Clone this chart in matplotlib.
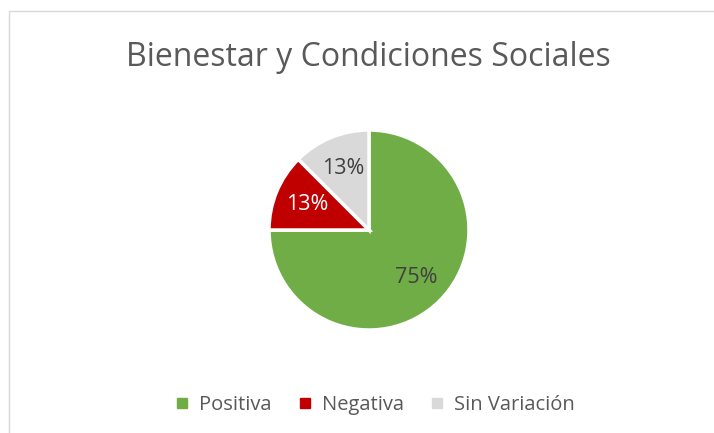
import matplotlib.pyplot as plt
from matplotlib.patches import Rectangle
from matplotlib.lines import Line2D

categories = ["Positiva", "Negativa", "Sin Variación"]
values = [75, 12.5, 12.5]
labels = ["75%", "13%", "13%"]
colors = ["#70AD47", "#C00000", "#D9D9D9"]
label_colors = ["#404040", "#FFFFFF", "#404040"]

plt.rcParams['font.family'] = ['Open Sans', 'DejaVu Sans']

W, H = 714, 433
fig = plt.figure(figsize=(W / 100, H / 100), dpi=100)
fig.patch.set_facecolor("white")

# chart border
fig.add_artist(Rectangle((9 / W, -0.1), 1.1, (H - 11) / H + 0.1, transform=fig.transFigure,
                         fill=False, edgecolor="#D9D9D9", linewidth=1.0))

fig.text(368 / W, 1 - 58 / H, "Bienestar y Condiciones Sociales", ha="center", va="center",
         fontsize=23, color="#595959")

r = 100
cx, cy = 369, 230
ax = fig.add_axes([(cx - r) / W, 1 - (cy + r) / H, 2 * r / W, 2 * r / H])
wedges, texts = ax.pie(values, colors=colors, startangle=90, counterclock=False,
                       labels=labels, labeldistance=0.67,
                       wedgeprops=dict(edgecolor="white", linewidth=2.5),
                       textprops=dict(fontsize=15.5))
for t, c in zip(texts, label_colors):
    t.set_color(c)
    t.set_ha("center")
    t.set_va("center")
ax.set_aspect("equal")
ax.set_xlim(-1, 1)
ax.set_ylim(-1, 1)

handles = [Line2D([0], [0], marker="s", linestyle="none", markersize=7,
                  markerfacecolor=c, markeredgecolor=c) for c in colors]
fig.legend(handles, categories, loc="center", bbox_to_anchor=(375 / W, 1 - 405 / H),
           ncol=3, frameon=False, fontsize=14.5, handlelength=0.7, handletextpad=0.5,
           columnspacing=1.3, labelcolor="#595959")

fig.savefig("out.png", dpi=100)
